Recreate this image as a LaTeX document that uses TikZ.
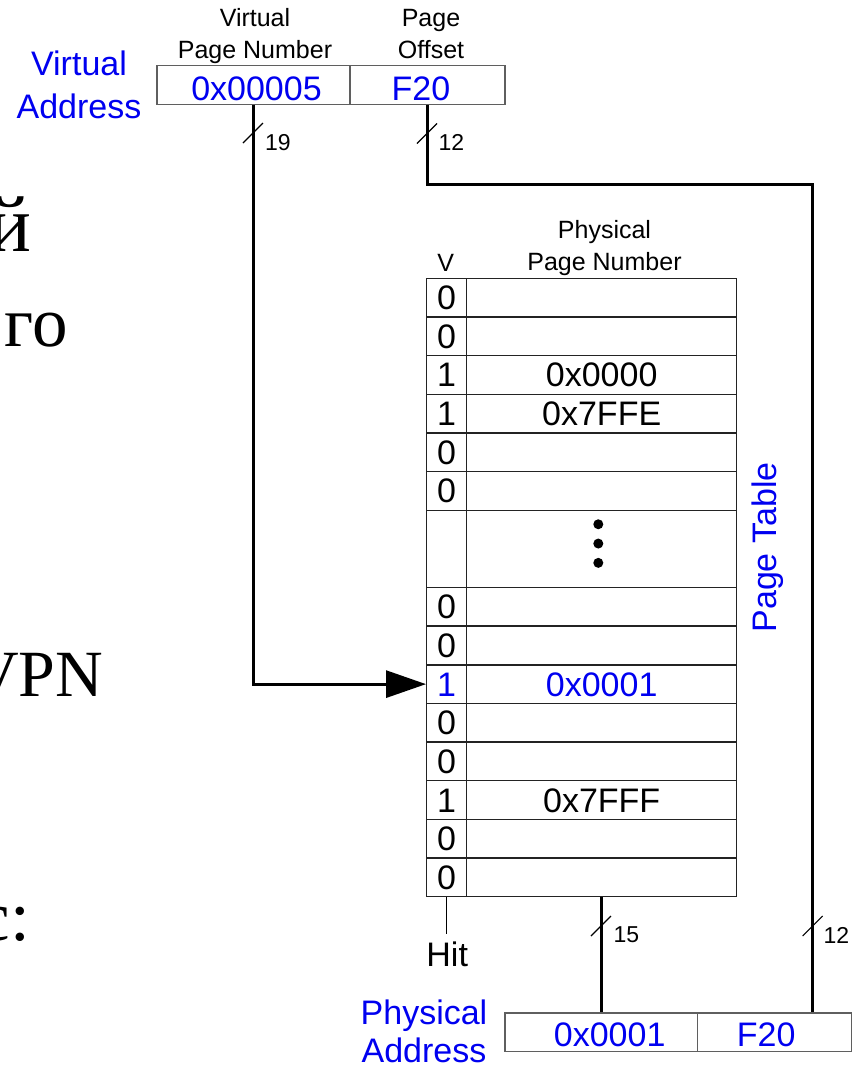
\documentclass[tikz,border=0pt]{standalone}
\usepackage{fontspec}
\setmainfont{Liberation Sans}
\newfontfamily\slideserif{Liberation Serif}
\usetikzlibrary{arrows.meta}
\definecolor{addrblue}{RGB}{0,0,240}
\definecolor{fieldline}{RGB}{95,95,95}
\definecolor{gridline}{RGB}{35,35,35}
% two centred lines, baseline on the lower one
\newcommand\stacktwo[2]{\begin{tabular}[b]{@{}c@{}}#1\\#2\end{tabular}}

\begin{document}
\begin{tikzpicture}[x=1pt,y=-1pt,
  big/.style={font=\fontsize{34}{40}\selectfont},
  hdr/.style={font=\fontsize{25}{32}\selectfont, inner sep=0pt, anchor=base},
  buswidth/.style={font=\fontsize{23}{28}\selectfont, inner sep=0pt, anchor=base west},
  field/.style={draw=fieldline, line width=1.2pt, minimum height=38.5pt, inner sep=0pt,
                big, text=addrblue, text height=30pt, text depth=0pt},
  vcell/.style={draw=gridline, line width=1.4pt, minimum width=40pt, minimum height=38.65pt,
                inner sep=0pt, big, text height=24pt, text depth=0pt},
  pcell/.style={vcell, minimum width=270pt},
  bus/.style={line width=3pt},
  wire/.style={line width=1pt},
  tick/.style={line width=1.1pt},
  bluelabel/.style={text=addrblue, inner sep=0pt, anchor=base},
  slidetext/.style={inner sep=0pt, anchor=base east},
]
\useasboundingbox (0,0) rectangle (856,1066);
\fill[white] (0,0) rectangle (856,1066);
\clip (0,0) rectangle (856,1066);

% slide text running in from the left
\node[slidetext, font=\slideserif\fontsize{80}{90}\selectfont] (txta) at (31.5,251.7) {й};
\node[slidetext, font=\slideserif\fontsize{71}{80}\selectfont] (txtb) at (68,346.7) {го};
\node[slidetext, font=\slideserif\fontsize{66}{76}\selectfont] (txtc) at (103.5,696.7) {VPN};
\node[slidetext, font=\slideserif\fontsize{71}{80}\selectfont] (txtd) at (30,940) {с:};

% virtual address
\node[bluelabel, font=\fontsize{34}{43}\selectfont] (valabel) at (79,118.3) {\stacktwo{Virtual}{Address}};
\node[hdr] (vpnhdr) at (255,58.3) {\stacktwo{Virtual}{Page Number}};
\node[hdr] (offhdr) at (431,58.3) {\stacktwo{Page}{Offset}};
\node[field, minimum width=193pt] (vpn) at (253.5,85) {\kern6pt 0x00005};
\node[field, minimum width=155pt] (voff) at (427.5,85) {F20\kern13pt};

% page table
\node[hdr] (vhdr) at (445.8,271.7) {V};
\node[hdr] (ppnhdr) at (604.5,270.7) {\stacktwo{Physical}{Page Number}};
\foreach \i/\v/\p/\c in {0/0//black, 1/0//black, 2/1/0x0000/black, 3/1/0x7FFE/black,
    4/0//black, 5/0//black, 8/0//black, 9/0//black, 10/1/0x0001/addrblue,
    11/0//black, 12/0//black, 13/1/0x7FFF/black, 14/0//black, 15/0//black}{
  \node[vcell, text=\c] (v\i) at (446.7,{278.3+38.65*\i+19.325}) {\v};
  \node[pcell, text=\c] (p\i) at (601.7,{278.3+38.65*\i+19.325}) {\p};
}
\node[vcell, minimum height=77.3pt] (vgap) at (446.7,548.85) {};
\node[pcell, minimum height=77.3pt] (pgap) at (601.7,548.85) {};
\foreach \dy in {-24.6,-5.3,14}
  \fill ([shift={(-3.4,\dy)}]pgap.center) circle (5pt);
\node[font=\fontsize{34}{40}\selectfont, text=addrblue, rotate=90, anchor=base, inner sep=0pt]
  (ptlabel) at (776.7,547.5) {Page Table};

% physical address
\node[bluelabel, font=\fontsize{34}{37.6}\selectfont] (palabel) at (424,1062.3) {\stacktwo{Physical}{Address}};
\node[field, text height=29pt, minimum width=192.3pt] (ppn) at (601.2,1032.2) {\kern17pt 0x0001};
\node[field, text height=29pt, minimum width=154.4pt] (poff) at (774.5,1032.2) {F20\kern16.6pt};
\node[big, anchor=base, inner xsep=0pt, inner ysep=6.7pt] (hit) at (447.2,966) {Hit};

% buses
\draw[bus, -{Triangle[length=40pt,width=27pt]}] (vpn.south) |- (v10.west);
\coordinate (offturn) at (812.7,184);
\draw[bus] (voff.south) |- (offturn) -- (offturn |- poff.north);
\draw[bus] (p15.south) -- (p15.south |- ppn.north);
\draw[wire] (v15.south) -- (v15.south |- hit.north);

% bus width marks
\coordinate (t19) at (253,133);
\coordinate (t12a) at (427,133.5);
\coordinate (t15) at (601,926);
\coordinate (t12b) at (812.7,926);
\foreach \t in {t19,t12a,t15,t12b}
  \draw[tick] ([shift={(-10,10)}]\t) -- ([shift={(10,-10)}]\t);
\node[buswidth] (w19) at (265,150.7) {19};
\node[buswidth] (w12a) at (438.3,150.7) {12};
\node[buswidth] (w15) at (613.3,942.7) {15};
\node[buswidth] (w12b) at (823.3,943.3) {12};
\end{tikzpicture}
\end{document}
